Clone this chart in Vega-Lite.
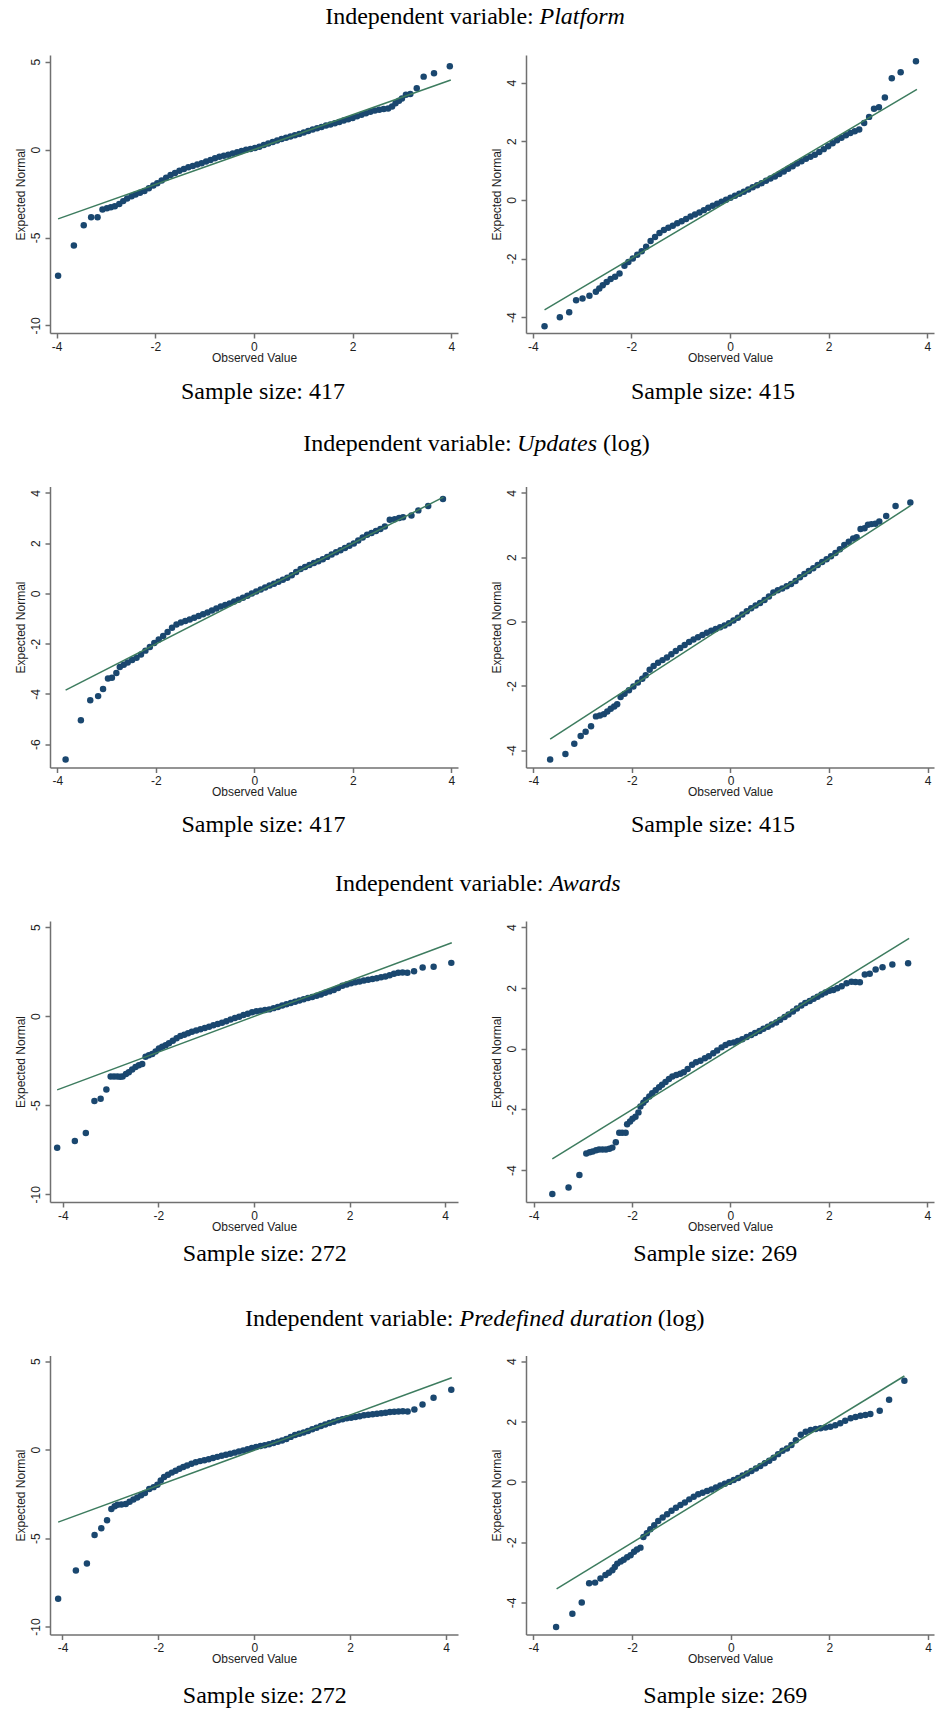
{
"$schema": "https://vega.github.io/schema/vega-lite/v6.json",
"padding": {"left": 14, "top": 4, "right": 5, "bottom": 5},
"background": "white",
"config": {
  "view": {"stroke": null},
  "font": "Liberation Sans",
  "axis": {"grid": false, "domainColor": "#707070", "domainWidth": 1.5, "tickColor": "#707070", "tickWidth": 1.5, "tickSize": 5, "labelFont": "Liberation Sans", "labelFontSize": 12, "labelColor": "#1e1e1e", "titleFont": "Liberation Sans", "titleFontSize": 12, "titleFontWeight": "normal", "titleColor": "#1e1e1e", "labelFlush": false, "labelOverlap": false},
  "axisX": {"labelPadding": 3, "titlePadding": 0, "labelAngle": 0},
  "axisY": {"labelAngle": 270, "labelAlign": "center", "labelBaseline": "bottom", "labelPadding": 3, "titlePadding": 2},
  "title": {"font": "Liberation Serif", "fontSize": 24, "fontWeight": "normal", "color": "#000000"}
},
"datasets": {
  "p1": [{"x":-3.97,"y":-7.18},{"x":-3.65,"y":-5.45},{"x":-3.45,"y":-4.3},{"x":-3.3,"y":-3.85},{"x":-3.17,"y":-3.85},{"x":-3.07,"y":-3.4},{"x":-2.98,"y":-3.33},{"x":-2.9,"y":-3.28},{"x":-2.82,"y":-3.22},{"x":-2.73,"y":-3.1},{"x":-2.65,"y":-2.93},{"x":-2.57,"y":-2.78},{"x":-2.48,"y":-2.65},{"x":-2.4,"y":-2.55},{"x":-2.31,"y":-2.45},{"x":-2.22,"y":-2.35},{"x":-2.13,"y":-2.2},{"x":-2.04,"y":-2.04},{"x":-1.96,"y":-1.92},{"x":-1.87,"y":-1.76},{"x":-1.78,"y":-1.6},{"x":-1.69,"y":-1.45},{"x":-1.6,"y":-1.33},{"x":-1.51,"y":-1.2},{"x":-1.42,"y":-1.1},{"x":-1.33,"y":-1.01},{"x":-1.24,"y":-0.93},{"x":-1.15,"y":-0.85},{"x":-1.06,"y":-0.77},{"x":-0.97,"y":-0.68},{"x":-0.88,"y":-0.59},{"x":-0.79,"y":-0.49},{"x":-0.7,"y":-0.41},{"x":-0.61,"y":-0.35},{"x":-0.52,"y":-0.29},{"x":-0.43,"y":-0.22},{"x":-0.34,"y":-0.15},{"x":-0.25,"y":-0.08},{"x":-0.16,"y":-0.01},{"x":-0.07,"y":0.04},{"x":0.02,"y":0.09},{"x":0.11,"y":0.16},{"x":0.2,"y":0.26},{"x":0.29,"y":0.35},{"x":0.38,"y":0.43},{"x":0.47,"y":0.52},{"x":0.56,"y":0.6},{"x":0.65,"y":0.67},{"x":0.74,"y":0.75},{"x":0.83,"y":0.82},{"x":0.92,"y":0.89},{"x":1.01,"y":0.97},{"x":1.1,"y":1.06},{"x":1.19,"y":1.14},{"x":1.28,"y":1.21},{"x":1.37,"y":1.29},{"x":1.46,"y":1.37},{"x":1.55,"y":1.43},{"x":1.64,"y":1.5},{"x":1.73,"y":1.57},{"x":1.82,"y":1.65},{"x":1.91,"y":1.72},{"x":2.0,"y":1.8},{"x":2.09,"y":1.89},{"x":2.18,"y":1.98},{"x":2.27,"y":2.07},{"x":2.36,"y":2.15},{"x":2.45,"y":2.22},{"x":2.54,"y":2.27},{"x":2.63,"y":2.31},{"x":2.72,"y":2.34},{"x":2.8,"y":2.45},{"x":2.87,"y":2.63},{"x":2.94,"y":2.78},{"x":3.0,"y":2.9},{"x":3.08,"y":3.12},{"x":3.17,"y":3.16},{"x":3.3,"y":3.49},{"x":3.44,"y":4.15},{"x":3.65,"y":4.34},{"x":3.97,"y":4.74}],
  "l1": [{"x":-3.97,"y":-3.94},{"x":3.99,"y":3.96}],
  "p2": [{"x":-3.76,"y":-4.31},{"x":-3.45,"y":-4.0},{"x":-3.26,"y":-3.83},{"x":-3.12,"y":-3.42},{"x":-2.99,"y":-3.36},{"x":-2.85,"y":-3.27},{"x":-2.72,"y":-3.13},{"x":-2.65,"y":-3.02},{"x":-2.58,"y":-2.91},{"x":-2.5,"y":-2.8},{"x":-2.42,"y":-2.7},{"x":-2.33,"y":-2.62},{"x":-2.24,"y":-2.51},{"x":-2.14,"y":-2.25},{"x":-2.06,"y":-2.12},{"x":-1.97,"y":-2.0},{"x":-1.88,"y":-1.87},{"x":-1.79,"y":-1.75},{"x":-1.7,"y":-1.6},{"x":-1.61,"y":-1.4},{"x":-1.52,"y":-1.27},{"x":-1.43,"y":-1.13},{"x":-1.34,"y":-1.03},{"x":-1.25,"y":-0.95},{"x":-1.16,"y":-0.88},{"x":-1.07,"y":-0.8},{"x":-0.98,"y":-0.73},{"x":-0.89,"y":-0.65},{"x":-0.8,"y":-0.57},{"x":-0.71,"y":-0.5},{"x":-0.62,"y":-0.43},{"x":-0.53,"y":-0.35},{"x":-0.44,"y":-0.27},{"x":-0.35,"y":-0.2},{"x":-0.26,"y":-0.13},{"x":-0.17,"y":-0.06},{"x":-0.08,"y":0.0},{"x":0.01,"y":0.07},{"x":0.1,"y":0.14},{"x":0.19,"y":0.21},{"x":0.28,"y":0.28},{"x":0.37,"y":0.35},{"x":0.46,"y":0.43},{"x":0.55,"y":0.5},{"x":0.64,"y":0.57},{"x":0.73,"y":0.65},{"x":0.82,"y":0.73},{"x":0.91,"y":0.8},{"x":1.0,"y":0.88},{"x":1.09,"y":0.97},{"x":1.18,"y":1.06},{"x":1.27,"y":1.15},{"x":1.36,"y":1.24},{"x":1.45,"y":1.32},{"x":1.54,"y":1.4},{"x":1.63,"y":1.47},{"x":1.72,"y":1.54},{"x":1.81,"y":1.63},{"x":1.9,"y":1.73},{"x":1.99,"y":1.83},{"x":2.08,"y":1.93},{"x":2.17,"y":2.03},{"x":2.26,"y":2.12},{"x":2.35,"y":2.2},{"x":2.44,"y":2.28},{"x":2.53,"y":2.34},{"x":2.62,"y":2.4},{"x":2.72,"y":2.62},{"x":2.82,"y":2.83},{"x":2.92,"y":3.11},{"x":3.02,"y":3.16},{"x":3.14,"y":3.49},{"x":3.28,"y":4.15},{"x":3.46,"y":4.35},{"x":3.77,"y":4.73}],
  "l2": [{"x":-3.76,"y":-3.75},{"x":3.79,"y":3.77}],
  "p3": [{"x":-3.83,"y":-6.61},{"x":-3.52,"y":-5.05},{"x":-3.33,"y":-4.25},{"x":-3.17,"y":-4.09},{"x":-3.07,"y":-3.81},{"x":-2.97,"y":-3.39},{"x":-2.89,"y":-3.36},{"x":-2.8,"y":-3.17},{"x":-2.73,"y":-2.93},{"x":-2.65,"y":-2.84},{"x":-2.57,"y":-2.75},{"x":-2.48,"y":-2.65},{"x":-2.39,"y":-2.56},{"x":-2.3,"y":-2.43},{"x":-2.21,"y":-2.28},{"x":-2.12,"y":-2.14},{"x":-2.03,"y":-1.98},{"x":-1.94,"y":-1.84},{"x":-1.85,"y":-1.7},{"x":-1.76,"y":-1.54},{"x":-1.67,"y":-1.37},{"x":-1.58,"y":-1.24},{"x":-1.49,"y":-1.16},{"x":-1.4,"y":-1.1},{"x":-1.31,"y":-1.04},{"x":-1.22,"y":-0.97},{"x":-1.13,"y":-0.9},{"x":-1.04,"y":-0.83},{"x":-0.95,"y":-0.76},{"x":-0.86,"y":-0.68},{"x":-0.77,"y":-0.6},{"x":-0.68,"y":-0.52},{"x":-0.59,"y":-0.46},{"x":-0.5,"y":-0.4},{"x":-0.41,"y":-0.33},{"x":-0.32,"y":-0.26},{"x":-0.23,"y":-0.18},{"x":-0.14,"y":-0.1},{"x":-0.05,"y":-0.01},{"x":0.04,"y":0.07},{"x":0.13,"y":0.15},{"x":0.22,"y":0.23},{"x":0.31,"y":0.31},{"x":0.4,"y":0.38},{"x":0.49,"y":0.46},{"x":0.58,"y":0.54},{"x":0.67,"y":0.62},{"x":0.76,"y":0.72},{"x":0.85,"y":0.85},{"x":0.94,"y":0.97},{"x":1.03,"y":1.05},{"x":1.12,"y":1.13},{"x":1.21,"y":1.21},{"x":1.3,"y":1.28},{"x":1.39,"y":1.36},{"x":1.48,"y":1.45},{"x":1.57,"y":1.54},{"x":1.66,"y":1.63},{"x":1.75,"y":1.71},{"x":1.84,"y":1.8},{"x":1.93,"y":1.89},{"x":2.02,"y":1.98},{"x":2.11,"y":2.1},{"x":2.2,"y":2.22},{"x":2.29,"y":2.33},{"x":2.38,"y":2.4},{"x":2.47,"y":2.48},{"x":2.56,"y":2.56},{"x":2.65,"y":2.66},{"x":2.75,"y":2.93},{"x":2.85,"y":2.95},{"x":2.94,"y":3.0},{"x":3.02,"y":3.03},{"x":3.19,"y":3.1},{"x":3.33,"y":3.3},{"x":3.53,"y":3.47},{"x":3.83,"y":3.75}],
  "l3": [{"x":-3.83,"y":-3.85},{"x":3.84,"y":3.83}],
  "p4": [{"x":-3.66,"y":-4.29},{"x":-3.35,"y":-4.12},{"x":-3.17,"y":-3.8},{"x":-3.04,"y":-3.56},{"x":-2.94,"y":-3.43},{"x":-2.83,"y":-3.26},{"x":-2.73,"y":-2.95},{"x":-2.65,"y":-2.92},{"x":-2.57,"y":-2.88},{"x":-2.5,"y":-2.8},{"x":-2.43,"y":-2.71},{"x":-2.36,"y":-2.64},{"x":-2.3,"y":-2.57},{"x":-2.23,"y":-2.35},{"x":-2.15,"y":-2.25},{"x":-2.06,"y":-2.14},{"x":-1.97,"y":-2.02},{"x":-1.88,"y":-1.9},{"x":-1.79,"y":-1.78},{"x":-1.72,"y":-1.67},{"x":-1.64,"y":-1.5},{"x":-1.56,"y":-1.38},{"x":-1.47,"y":-1.28},{"x":-1.38,"y":-1.2},{"x":-1.29,"y":-1.12},{"x":-1.2,"y":-1.02},{"x":-1.11,"y":-0.92},{"x":-1.02,"y":-0.82},{"x":-0.93,"y":-0.73},{"x":-0.84,"y":-0.64},{"x":-0.75,"y":-0.56},{"x":-0.66,"y":-0.49},{"x":-0.57,"y":-0.42},{"x":-0.48,"y":-0.35},{"x":-0.39,"y":-0.29},{"x":-0.3,"y":-0.23},{"x":-0.21,"y":-0.18},{"x":-0.12,"y":-0.12},{"x":-0.03,"y":-0.05},{"x":0.06,"y":0.03},{"x":0.15,"y":0.12},{"x":0.24,"y":0.22},{"x":0.33,"y":0.32},{"x":0.42,"y":0.41},{"x":0.51,"y":0.5},{"x":0.6,"y":0.58},{"x":0.69,"y":0.67},{"x":0.78,"y":0.78},{"x":0.87,"y":0.9},{"x":0.96,"y":0.97},{"x":1.05,"y":1.03},{"x":1.14,"y":1.1},{"x":1.23,"y":1.17},{"x":1.32,"y":1.26},{"x":1.41,"y":1.38},{"x":1.5,"y":1.48},{"x":1.59,"y":1.57},{"x":1.68,"y":1.66},{"x":1.77,"y":1.76},{"x":1.86,"y":1.85},{"x":1.95,"y":1.94},{"x":2.04,"y":2.03},{"x":2.13,"y":2.13},{"x":2.22,"y":2.25},{"x":2.31,"y":2.38},{"x":2.4,"y":2.48},{"x":2.49,"y":2.58},{"x":2.56,"y":2.62},{"x":2.64,"y":2.88},{"x":2.72,"y":2.9},{"x":2.79,"y":3.01},{"x":2.86,"y":3.03},{"x":2.94,"y":3.04},{"x":3.02,"y":3.11},{"x":3.16,"y":3.28},{"x":3.35,"y":3.59},{"x":3.65,"y":3.7}],
  "l4": [{"x":-3.66,"y":-3.66},{"x":3.66,"y":3.61}],
  "p5": [{"x":-4.12,"y":-7.39},{"x":-3.75,"y":-7.01},{"x":-3.52,"y":-6.56},{"x":-3.34,"y":-4.76},{"x":-3.21,"y":-4.63},{"x":-3.09,"y":-4.12},{"x":-3.0,"y":-3.39},{"x":-2.93,"y":-3.39},{"x":-2.86,"y":-3.39},{"x":-2.8,"y":-3.4},{"x":-2.75,"y":-3.39},{"x":-2.68,"y":-3.25},{"x":-2.62,"y":-3.15},{"x":-2.55,"y":-3.0},{"x":-2.48,"y":-2.85},{"x":-2.41,"y":-2.75},{"x":-2.34,"y":-2.68},{"x":-2.27,"y":-2.28},{"x":-2.2,"y":-2.2},{"x":-2.13,"y":-2.13},{"x":-2.06,"y":-1.98},{"x":-1.99,"y":-1.82},{"x":-1.92,"y":-1.72},{"x":-1.85,"y":-1.63},{"x":-1.78,"y":-1.52},{"x":-1.7,"y":-1.38},{"x":-1.62,"y":-1.24},{"x":-1.54,"y":-1.12},{"x":-1.46,"y":-1.04},{"x":-1.38,"y":-0.96},{"x":-1.3,"y":-0.88},{"x":-1.21,"y":-0.81},{"x":-1.12,"y":-0.74},{"x":-1.03,"y":-0.67},{"x":-0.94,"y":-0.59},{"x":-0.85,"y":-0.51},{"x":-0.76,"y":-0.44},{"x":-0.67,"y":-0.37},{"x":-0.58,"y":-0.28},{"x":-0.49,"y":-0.19},{"x":-0.4,"y":-0.11},{"x":-0.31,"y":-0.03},{"x":-0.22,"y":0.06},{"x":-0.13,"y":0.14},{"x":-0.04,"y":0.22},{"x":0.05,"y":0.27},{"x":0.14,"y":0.31},{"x":0.23,"y":0.34},{"x":0.32,"y":0.38},{"x":0.41,"y":0.45},{"x":0.5,"y":0.52},{"x":0.59,"y":0.6},{"x":0.68,"y":0.67},{"x":0.77,"y":0.74},{"x":0.86,"y":0.81},{"x":0.95,"y":0.88},{"x":1.04,"y":0.95},{"x":1.13,"y":1.02},{"x":1.22,"y":1.08},{"x":1.31,"y":1.14},{"x":1.4,"y":1.22},{"x":1.49,"y":1.31},{"x":1.58,"y":1.39},{"x":1.67,"y":1.47},{"x":1.76,"y":1.58},{"x":1.85,"y":1.7},{"x":1.94,"y":1.78},{"x":2.03,"y":1.84},{"x":2.12,"y":1.9},{"x":2.21,"y":1.95},{"x":2.3,"y":2.0},{"x":2.39,"y":2.04},{"x":2.48,"y":2.08},{"x":2.57,"y":2.13},{"x":2.66,"y":2.18},{"x":2.75,"y":2.22},{"x":2.84,"y":2.3},{"x":2.93,"y":2.38},{"x":3.02,"y":2.43},{"x":3.11,"y":2.45},{"x":3.21,"y":2.43},{"x":3.35,"y":2.52},{"x":3.53,"y":2.73},{"x":3.76,"y":2.77},{"x":4.13,"y":2.99}],
  "l5": [{"x":-4.12,"y":-4.14},{"x":4.14,"y":4.12}],
  "p6": [{"x":-3.62,"y":-4.79},{"x":-3.29,"y":-4.57},{"x":-3.07,"y":-4.16},{"x":-2.93,"y":-3.45},{"x":-2.86,"y":-3.41},{"x":-2.8,"y":-3.39},{"x":-2.73,"y":-3.35},{"x":-2.67,"y":-3.32},{"x":-2.6,"y":-3.32},{"x":-2.53,"y":-3.32},{"x":-2.46,"y":-3.3},{"x":-2.4,"y":-3.26},{"x":-2.33,"y":-3.08},{"x":-2.26,"y":-2.77},{"x":-2.2,"y":-2.77},{"x":-2.13,"y":-2.77},{"x":-2.1,"y":-2.49},{"x":-2.04,"y":-2.4},{"x":-1.99,"y":-2.31},{"x":-1.93,"y":-2.24},{"x":-1.87,"y":-2.1},{"x":-1.83,"y":-1.91},{"x":-1.77,"y":-1.78},{"x":-1.72,"y":-1.69},{"x":-1.65,"y":-1.58},{"x":-1.59,"y":-1.47},{"x":-1.52,"y":-1.37},{"x":-1.45,"y":-1.27},{"x":-1.39,"y":-1.19},{"x":-1.32,"y":-1.1},{"x":-1.25,"y":-1.0},{"x":-1.18,"y":-0.92},{"x":-1.1,"y":-0.87},{"x":-1.02,"y":-0.83},{"x":-0.95,"y":-0.78},{"x":-0.87,"y":-0.67},{"x":-0.78,"y":-0.53},{"x":-0.7,"y":-0.45},{"x":-0.61,"y":-0.4},{"x":-0.52,"y":-0.32},{"x":-0.44,"y":-0.25},{"x":-0.35,"y":-0.15},{"x":-0.27,"y":-0.06},{"x":-0.18,"y":0.04},{"x":-0.1,"y":0.12},{"x":-0.02,"y":0.18},{"x":0.07,"y":0.2},{"x":0.15,"y":0.25},{"x":0.24,"y":0.31},{"x":0.33,"y":0.38},{"x":0.42,"y":0.45},{"x":0.5,"y":0.51},{"x":0.59,"y":0.58},{"x":0.67,"y":0.65},{"x":0.76,"y":0.72},{"x":0.84,"y":0.79},{"x":0.93,"y":0.86},{"x":1.01,"y":0.95},{"x":1.1,"y":1.04},{"x":1.18,"y":1.12},{"x":1.27,"y":1.22},{"x":1.35,"y":1.32},{"x":1.44,"y":1.42},{"x":1.52,"y":1.5},{"x":1.61,"y":1.57},{"x":1.69,"y":1.64},{"x":1.77,"y":1.71},{"x":1.85,"y":1.78},{"x":1.93,"y":1.85},{"x":2.01,"y":1.9},{"x":2.09,"y":1.93},{"x":2.17,"y":1.99},{"x":2.26,"y":2.05},{"x":2.36,"y":2.15},{"x":2.46,"y":2.2},{"x":2.54,"y":2.19},{"x":2.63,"y":2.18},{"x":2.73,"y":2.44},{"x":2.83,"y":2.46},{"x":2.95,"y":2.6},{"x":3.09,"y":2.68},{"x":3.29,"y":2.77},{"x":3.61,"y":2.81}],
  "l6": [{"x":-3.62,"y":-3.63},{"x":3.63,"y":3.63}],
  "p7": [{"x":-4.09,"y":-8.43},{"x":-3.72,"y":-6.83},{"x":-3.49,"y":-6.44},{"x":-3.33,"y":-4.82},{"x":-3.19,"y":-4.44},{"x":-3.07,"y":-3.99},{"x":-2.98,"y":-3.35},{"x":-2.91,"y":-3.2},{"x":-2.85,"y":-3.12},{"x":-2.77,"y":-3.1},{"x":-2.68,"y":-3.07},{"x":-2.6,"y":-2.95},{"x":-2.52,"y":-2.82},{"x":-2.44,"y":-2.7},{"x":-2.36,"y":-2.58},{"x":-2.28,"y":-2.45},{"x":-2.19,"y":-2.22},{"x":-2.1,"y":-2.12},{"x":-2.02,"y":-1.99},{"x":-1.95,"y":-1.75},{"x":-1.88,"y":-1.55},{"x":-1.8,"y":-1.42},{"x":-1.72,"y":-1.3},{"x":-1.64,"y":-1.2},{"x":-1.56,"y":-1.08},{"x":-1.48,"y":-0.98},{"x":-1.4,"y":-0.9},{"x":-1.31,"y":-0.8},{"x":-1.22,"y":-0.72},{"x":-1.13,"y":-0.65},{"x":-1.04,"y":-0.6},{"x":-0.95,"y":-0.54},{"x":-0.86,"y":-0.48},{"x":-0.77,"y":-0.41},{"x":-0.68,"y":-0.35},{"x":-0.59,"y":-0.29},{"x":-0.5,"y":-0.23},{"x":-0.41,"y":-0.17},{"x":-0.32,"y":-0.11},{"x":-0.23,"y":-0.05},{"x":-0.14,"y":0.02},{"x":-0.05,"y":0.09},{"x":0.04,"y":0.15},{"x":0.13,"y":0.2},{"x":0.22,"y":0.25},{"x":0.31,"y":0.3},{"x":0.4,"y":0.37},{"x":0.49,"y":0.44},{"x":0.58,"y":0.51},{"x":0.67,"y":0.6},{"x":0.76,"y":0.72},{"x":0.85,"y":0.82},{"x":0.94,"y":0.9},{"x":1.03,"y":0.97},{"x":1.12,"y":1.05},{"x":1.21,"y":1.15},{"x":1.3,"y":1.24},{"x":1.39,"y":1.33},{"x":1.48,"y":1.42},{"x":1.57,"y":1.5},{"x":1.66,"y":1.58},{"x":1.75,"y":1.66},{"x":1.84,"y":1.72},{"x":1.93,"y":1.77},{"x":2.02,"y":1.8},{"x":2.11,"y":1.84},{"x":2.2,"y":1.89},{"x":2.29,"y":1.94},{"x":2.38,"y":1.97},{"x":2.47,"y":2.0},{"x":2.56,"y":2.03},{"x":2.65,"y":2.06},{"x":2.74,"y":2.09},{"x":2.83,"y":2.12},{"x":2.92,"y":2.14},{"x":3.01,"y":2.16},{"x":3.1,"y":2.17},{"x":3.2,"y":2.15},{"x":3.34,"y":2.27},{"x":3.51,"y":2.55},{"x":3.74,"y":2.93},{"x":4.11,"y":3.38}],
  "l7": [{"x":-4.09,"y":-4.1},{"x":4.12,"y":4.06}],
  "p8": [{"x":-3.54,"y":-4.81},{"x":-3.21,"y":-4.37},{"x":-3.02,"y":-4.0},{"x":-2.87,"y":-3.36},{"x":-2.75,"y":-3.34},{"x":-2.64,"y":-3.2},{"x":-2.54,"y":-3.09},{"x":-2.47,"y":-3.01},{"x":-2.4,"y":-2.93},{"x":-2.35,"y":-2.82},{"x":-2.3,"y":-2.71},{"x":-2.23,"y":-2.64},{"x":-2.17,"y":-2.58},{"x":-2.1,"y":-2.5},{"x":-2.03,"y":-2.43},{"x":-1.96,"y":-2.32},{"x":-1.9,"y":-2.24},{"x":-1.83,"y":-2.18},{"x":-1.77,"y":-1.83},{"x":-1.7,"y":-1.7},{"x":-1.63,"y":-1.57},{"x":-1.55,"y":-1.44},{"x":-1.47,"y":-1.3},{"x":-1.38,"y":-1.18},{"x":-1.29,"y":-1.07},{"x":-1.2,"y":-0.96},{"x":-1.11,"y":-0.86},{"x":-1.02,"y":-0.77},{"x":-0.93,"y":-0.68},{"x":-0.84,"y":-0.58},{"x":-0.75,"y":-0.49},{"x":-0.66,"y":-0.41},{"x":-0.57,"y":-0.36},{"x":-0.48,"y":-0.3},{"x":-0.39,"y":-0.25},{"x":-0.3,"y":-0.19},{"x":-0.21,"y":-0.12},{"x":-0.12,"y":-0.06},{"x":-0.03,"y":0.0},{"x":0.06,"y":0.06},{"x":0.15,"y":0.13},{"x":0.24,"y":0.21},{"x":0.33,"y":0.28},{"x":0.42,"y":0.36},{"x":0.51,"y":0.44},{"x":0.6,"y":0.53},{"x":0.69,"y":0.62},{"x":0.78,"y":0.7},{"x":0.87,"y":0.8},{"x":0.96,"y":0.92},{"x":1.05,"y":1.03},{"x":1.14,"y":1.11},{"x":1.23,"y":1.22},{"x":1.32,"y":1.38},{"x":1.42,"y":1.56},{"x":1.52,"y":1.66},{"x":1.62,"y":1.72},{"x":1.72,"y":1.75},{"x":1.82,"y":1.78},{"x":1.92,"y":1.8},{"x":2.02,"y":1.83},{"x":2.12,"y":1.88},{"x":2.22,"y":1.94},{"x":2.32,"y":2.03},{"x":2.43,"y":2.11},{"x":2.53,"y":2.15},{"x":2.63,"y":2.19},{"x":2.73,"y":2.22},{"x":2.83,"y":2.25},{"x":3.02,"y":2.36},{"x":3.21,"y":2.72},{"x":3.52,"y":3.35}],
  "l8": [{"x":-3.53,"y":-3.55},{"x":3.52,"y":3.51}]
},
"columns": 2,
"spacing": {"row": 153.5, "column": 68},
"bounds": "flush",
"align": "each",
"concat": [
  {"width": 408, "height": 278,
   "title": {"text": "Sample size: 417", "orient": "bottom", "frame": "group", "anchor": "middle", "dx": 9, "offset": 16.7},
   "layer": [
    {"data": {"name": "p1"}, "mark": {"type": "point", "filled": true, "size": 42, "opacity": 1, "color": "#1a476f"},
     "encoding": {
      "x": {"field": "x", "type": "quantitative", "scale": {"domain": [-4.134, 4.136], "nice": false, "zero": false}, "axis": {"values": [-4,-2,0,2,4], "title": "Observed Value", "labelExpr": "datum.value + ''"}},
      "y": {"field": "y", "type": "quantitative", "scale": {"domain": [-10.43, 5.38], "nice": false, "zero": false}, "axis": {"values": [-10,-5,0,5], "title": "Expected Normal", "labelExpr": "datum.value + ''"}}}},
    {"data": {"name": "l1"}, "mark": {"type": "line", "color": "#3d7c5f", "strokeWidth": 1.5},
     "encoding": {
      "x": {"field": "x", "type": "quantitative", "scale": {"domain": [-4.134, 4.136], "nice": false, "zero": false}, "axis": {"orient": "top", "title": "Independent variable:", "titleX": 483.3, "titleY": -31.7, "titleAlign": "right", "titleBaseline": "alphabetic", "titleAngle": 0, "domain": false, "ticks": false, "labels": false, "titleFont": "Liberation Serif", "titleFontSize": 24, "titleFontWeight": "normal", "titleColor": "#000000"}},
      "y": {"field": "y", "type": "quantitative", "scale": {"domain": [-10.43, 5.38], "nice": false, "zero": false}, "axis": null}}}
   ],
   "resolve": {"scale": {"x": "independent", "y": "independent"}}},
  {"width": 408, "height": 278,
   "title": {"text": "Sample size: 415", "orient": "bottom", "frame": "group", "anchor": "middle", "dx": -17, "offset": 16.7},
   "layer": [
    {"data": {"name": "p2"}, "mark": {"type": "point", "filled": true, "size": 42, "opacity": 1, "color": "#1a476f"},
     "encoding": {
      "x": {"field": "x", "type": "quantitative", "scale": {"domain": [-4.136, 4.136], "nice": false, "zero": false}, "axis": {"values": [-4,-2,0,2,4], "title": "Observed Value", "labelExpr": "datum.value + ''"}},
      "y": {"field": "y", "type": "quantitative", "scale": {"domain": [-4.54, 4.94], "nice": false, "zero": false}, "axis": {"values": [-4,-2,0,2,4], "title": "Expected Normal", "labelExpr": "datum.value + ''"}}}},
    {"data": {"name": "l2"}, "mark": {"type": "line", "color": "#3d7c5f", "strokeWidth": 1.5},
     "encoding": {
      "x": {"field": "x", "type": "quantitative", "scale": {"domain": [-4.136, 4.136], "nice": false, "zero": false}, "axis": {"orient": "top", "title": "Platform", "titleX": 13, "titleY": -31.7, "titleAlign": "left", "titleBaseline": "alphabetic", "titleAngle": 0, "domain": false, "ticks": false, "labels": false, "titleFont": "Liberation Serif", "titleFontSize": 24, "titleFontWeight": "normal", "titleFontStyle": "italic", "titleColor": "#000000"}},
      "y": {"field": "y", "type": "quantitative", "scale": {"domain": [-4.54, 4.94], "nice": false, "zero": false}, "axis": null}}}
   ],
   "resolve": {"scale": {"x": "independent", "y": "independent"}}},
  {"width": 408, "height": 281,
   "title": {"text": "Sample size: 417", "orient": "bottom", "frame": "group", "anchor": "middle", "dx": 9.5, "offset": 15.5},
   "layer": [
    {"data": {"name": "p3"}, "mark": {"type": "point", "filled": true, "size": 42, "opacity": 1, "color": "#1a476f"},
     "encoding": {
      "x": {"field": "x", "type": "quantitative", "scale": {"domain": [-4.147, 4.135], "nice": false, "zero": false}, "axis": {"values": [-4,-2,0,2,4], "title": "Observed Value", "labelExpr": "datum.value + ''"}},
      "y": {"field": "y", "type": "quantitative", "scale": {"domain": [-6.93, 4.25], "nice": false, "zero": false}, "axis": {"values": [-6,-4,-2,0,2,4], "title": "Expected Normal", "labelExpr": "datum.value + ''"}}}},
    {"data": {"name": "l3"}, "mark": {"type": "line", "color": "#3d7c5f", "strokeWidth": 1.5},
     "encoding": {
      "x": {"field": "x", "type": "quantitative", "scale": {"domain": [-4.147, 4.135], "nice": false, "zero": false}, "axis": {"orient": "top", "title": "Independent variable:", "titleX": 461.3, "titleY": -35.8, "titleAlign": "right", "titleBaseline": "alphabetic", "titleAngle": 0, "domain": false, "ticks": false, "labels": false, "titleFont": "Liberation Serif", "titleFontSize": 24, "titleFontWeight": "normal", "titleColor": "#000000"}},
      "y": {"field": "y", "type": "quantitative", "scale": {"domain": [-6.93, 4.25], "nice": false, "zero": false}, "axis": null}}}
   ],
   "resolve": {"scale": {"x": "independent", "y": "independent"}}},
  {"width": 408, "height": 281,
   "title": {"text": "Sample size: 415", "orient": "bottom", "frame": "group", "anchor": "middle", "dx": -17, "offset": 15.5},
   "layer": [
    {"data": {"name": "p4"}, "mark": {"type": "point", "filled": true, "size": 42, "opacity": 1, "color": "#1a476f"},
     "encoding": {
      "x": {"field": "x", "type": "quantitative", "scale": {"domain": [-4.15, 4.13], "nice": false, "zero": false}, "axis": {"values": [-4,-2,0,2,4], "title": "Observed Value", "labelExpr": "datum.value + ''"}},
      "y": {"field": "y", "type": "quantitative", "scale": {"domain": [-4.54, 4.2], "nice": false, "zero": false}, "axis": {"values": [-4,-2,0,2,4], "title": "Expected Normal", "labelExpr": "datum.value + ''"}}}},
    {"data": {"name": "l4"}, "mark": {"type": "line", "color": "#3d7c5f", "strokeWidth": 1.5},
     "encoding": {
      "x": {"field": "x", "type": "quantitative", "scale": {"domain": [-4.15, 4.13], "nice": false, "zero": false}, "axis": {"orient": "top", "title": "Updates", "titleX": -9.5, "titleY": -35.8, "titleAlign": "left", "titleBaseline": "alphabetic", "titleAngle": 0, "domain": false, "ticks": false, "labels": false, "titleFont": "Liberation Serif", "titleFontSize": 24, "titleFontWeight": "normal", "titleFontStyle": "italic", "titleColor": "#000000"}},
      "y": {"field": "y", "type": "quantitative", "scale": {"domain": [-4.54, 4.2], "nice": false, "zero": false}, "axis": {"orient": "right", "title": "(log)", "titleX": -331.5, "titleY": -35.8, "titleAlign": "left", "titleBaseline": "alphabetic", "titleAngle": 0, "domain": false, "ticks": false, "labels": false, "titleFont": "Liberation Serif", "titleFontSize": 24, "titleFontWeight": "normal", "titleColor": "#000000"}}}}
   ],
   "resolve": {"scale": {"x": "independent", "y": "independent"}}},
  {"width": 408, "height": 281,
   "title": {"text": "Sample size: 272", "orient": "bottom", "frame": "group", "anchor": "middle", "dx": 10.8, "offset": 10},
   "layer": [
    {"data": {"name": "p5"}, "mark": {"type": "point", "filled": true, "size": 42, "opacity": 1, "color": "#1a476f"},
     "encoding": {
      "x": {"field": "x", "type": "quantitative", "scale": {"domain": [-4.27, 4.27], "nice": false, "zero": false}, "axis": {"values": [-4,-2,0,2,4], "title": "Observed Value", "labelExpr": "datum.value + ''"}},
      "y": {"field": "y", "type": "quantitative", "scale": {"domain": [-10.43, 5.34], "nice": false, "zero": false}, "axis": {"values": [-10,-5,0,5], "title": "Expected Normal", "labelExpr": "datum.value + ''"}}}},
    {"data": {"name": "l5"}, "mark": {"type": "line", "color": "#3d7c5f", "strokeWidth": 1.5},
     "encoding": {
      "x": {"field": "x", "type": "quantitative", "scale": {"domain": [-4.27, 4.27], "nice": false, "zero": false}, "axis": {"orient": "top", "title": "Independent variable:", "titleX": 493, "titleY": -31, "titleAlign": "right", "titleBaseline": "alphabetic", "titleAngle": 0, "domain": false, "ticks": false, "labels": false, "titleFont": "Liberation Serif", "titleFontSize": 24, "titleFontWeight": "normal", "titleColor": "#000000"}},
      "y": {"field": "y", "type": "quantitative", "scale": {"domain": [-10.43, 5.34], "nice": false, "zero": false}, "axis": null}}}
   ],
   "resolve": {"scale": {"x": "independent", "y": "independent"}}},
  {"width": 408, "height": 281,
   "title": {"text": "Sample size: 269", "orient": "bottom", "frame": "group", "anchor": "middle", "dx": -14.7, "offset": 10},
   "layer": [
    {"data": {"name": "p6"}, "mark": {"type": "point", "filled": true, "size": 42, "opacity": 1, "color": "#1a476f"},
     "encoding": {
      "x": {"field": "x", "type": "quantitative", "scale": {"domain": [-4.155, 4.136], "nice": false, "zero": false}, "axis": {"values": [-4,-2,0,2,4], "title": "Observed Value", "labelExpr": "datum.value + ''"}},
      "y": {"field": "y", "type": "quantitative", "scale": {"domain": [-5.05, 4.2], "nice": false, "zero": false}, "axis": {"values": [-4,-2,0,2,4], "title": "Expected Normal", "labelExpr": "datum.value + ''"}}}},
    {"data": {"name": "l6"}, "mark": {"type": "line", "color": "#3d7c5f", "strokeWidth": 1.5},
     "encoding": {
      "x": {"field": "x", "type": "quantitative", "scale": {"domain": [-4.155, 4.136], "nice": false, "zero": false}, "axis": {"orient": "top", "title": "Awards", "titleX": 23, "titleY": -31, "titleAlign": "left", "titleBaseline": "alphabetic", "titleAngle": 0, "domain": false, "ticks": false, "labels": false, "titleFont": "Liberation Serif", "titleFontSize": 24, "titleFontWeight": "normal", "titleFontStyle": "italic", "titleColor": "#000000"}},
      "y": {"field": "y", "type": "quantitative", "scale": {"domain": [-5.05, 4.2], "nice": false, "zero": false}, "axis": null}}}
   ],
   "resolve": {"scale": {"x": "independent", "y": "independent"}}},
  {"width": 408, "height": 279,
   "title": {"text": "Sample size: 272", "orient": "bottom", "frame": "group", "anchor": "middle", "dx": 10.8, "offset": 19.5},
   "layer": [
    {"data": {"name": "p7"}, "mark": {"type": "point", "filled": true, "size": 42, "opacity": 1, "color": "#1a476f"},
     "encoding": {
      "x": {"field": "x", "type": "quantitative", "scale": {"domain": [-4.26, 4.25], "nice": false, "zero": false}, "axis": {"values": [-4,-2,0,2,4], "title": "Observed Value", "labelExpr": "datum.value + ''"}},
      "y": {"field": "y", "type": "quantitative", "scale": {"domain": [-10.45, 5.32], "nice": false, "zero": false}, "axis": {"values": [-10,-5,0,5], "title": "Expected Normal", "labelExpr": "datum.value + ''"}}}},
    {"data": {"name": "l7"}, "mark": {"type": "line", "color": "#3d7c5f", "strokeWidth": 1.5},
     "encoding": {
      "x": {"field": "x", "type": "quantitative", "scale": {"domain": [-4.26, 4.25], "nice": false, "zero": false}, "axis": {"orient": "top", "title": "Independent variable:", "titleX": 403, "titleY": -30.5, "titleAlign": "right", "titleBaseline": "alphabetic", "titleAngle": 0, "domain": false, "ticks": false, "labels": false, "titleFont": "Liberation Serif", "titleFontSize": 24, "titleFontWeight": "normal", "titleColor": "#000000"}},
      "y": {"field": "y", "type": "quantitative", "scale": {"domain": [-10.45, 5.32], "nice": false, "zero": false}, "axis": null}}}
   ],
   "resolve": {"scale": {"x": "independent", "y": "independent"}}},
  {"width": 408, "height": 279,
   "title": {"text": "Sample size: 269", "orient": "bottom", "frame": "group", "anchor": "middle", "dx": -4.7, "offset": 19.5},
   "layer": [
    {"data": {"name": "p8"}, "mark": {"type": "point", "filled": true, "size": 42, "opacity": 1, "color": "#1a476f"},
     "encoding": {
      "x": {"field": "x", "type": "quantitative", "scale": {"domain": [-4.15, 4.12], "nice": false, "zero": false}, "axis": {"values": [-4,-2,0,2,4], "title": "Observed Value", "labelExpr": "datum.value + ''"}},
      "y": {"field": "y", "type": "quantitative", "scale": {"domain": [-5.06, 4.19], "nice": false, "zero": false}, "axis": {"values": [-4,-2,0,2,4], "title": "Expected Normal", "labelExpr": "datum.value + ''"}}}},
    {"data": {"name": "l8"}, "mark": {"type": "line", "color": "#3d7c5f", "strokeWidth": 1.5},
     "encoding": {
      "x": {"field": "x", "type": "quantitative", "scale": {"domain": [-4.15, 4.12], "nice": false, "zero": false}, "axis": {"orient": "top", "title": "Predefined duration", "titleX": -67, "titleY": -30.5, "titleAlign": "left", "titleBaseline": "alphabetic", "titleAngle": 0, "domain": false, "ticks": false, "labels": false, "titleFont": "Liberation Serif", "titleFontSize": 24, "titleFontWeight": "normal", "titleFontStyle": "italic", "titleColor": "#000000"}},
      "y": {"field": "y", "type": "quantitative", "scale": {"domain": [-5.06, 4.19], "nice": false, "zero": false}, "axis": {"orient": "right", "title": "(log)", "titleX": -276.7, "titleY": -30.5, "titleAlign": "left", "titleBaseline": "alphabetic", "titleAngle": 0, "domain": false, "ticks": false, "labels": false, "titleFont": "Liberation Serif", "titleFontSize": 24, "titleFontWeight": "normal", "titleColor": "#000000"}}}}
   ],
   "resolve": {"scale": {"x": "independent", "y": "independent"}}}
]
}
